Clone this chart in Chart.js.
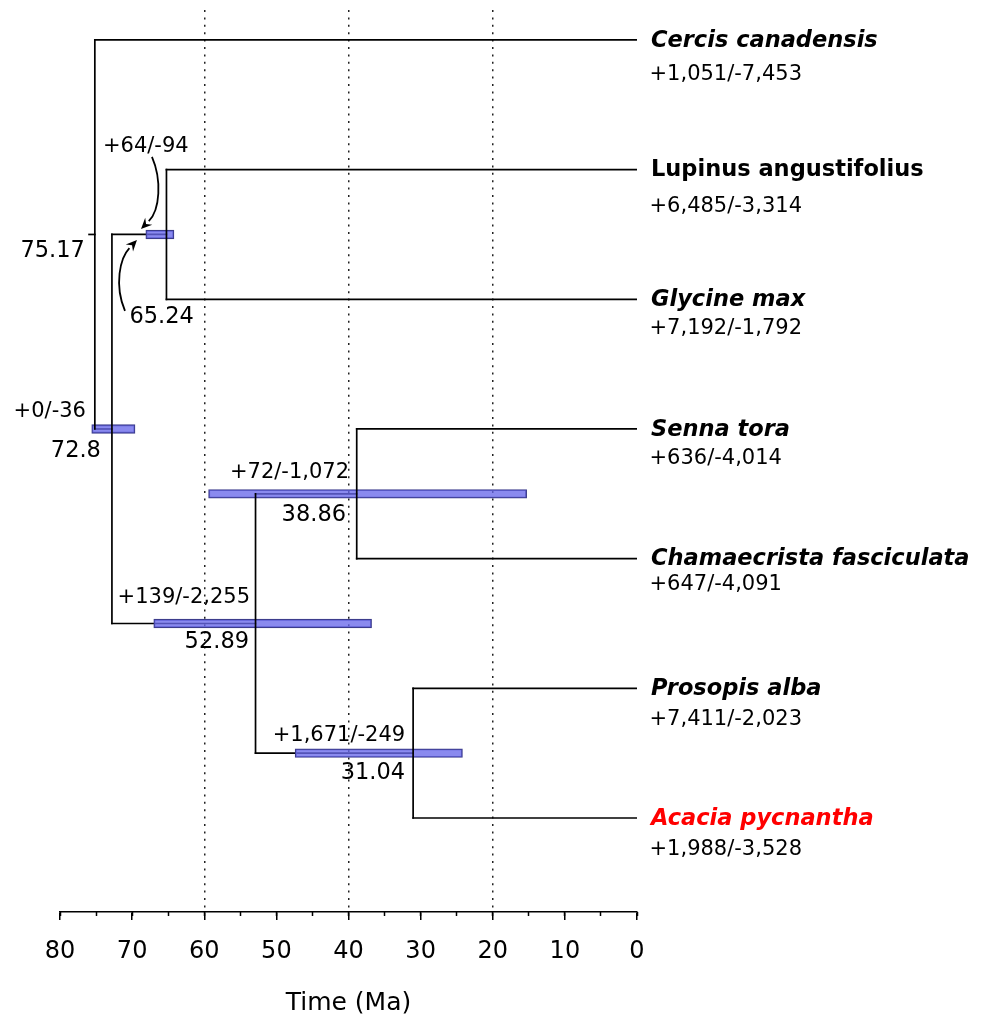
<!DOCTYPE html>
<html><head><meta charset="utf-8">
<script src="https://cdn.jsdelivr.net/npm/chart.js@4.4.1/dist/chart.umd.min.js"></script>
<style>html,body{margin:0;padding:0;background:#fff;}canvas{display:block;}</style>
</head><body>
<canvas id="c" width="984" height="1018"></canvas>
<script>
// ---------- DATA ----------
const leafNames = ['Cercis canadensis','Lupinus angustifolius','Glycine max','Senna tora','Chamaecrista fasciculata','Prosopis alba','Acacia pycnantha'];
const leafGainLoss = ['+1,051/-7,453','+6,485/-3,314','+7,192/-1,792','+636/-4,014','+647/-4,091','+7,411/-2,023','+1,988/-3,528'];
const leafRows = [0, 1, 2, 3, 4, 5, 6];
const leafAge = 0;

const nodeNames = ['root', 'n72', 'n65', 'n52', 'n38', 'n31'];
const nodeAges = [75.17, 72.8, 65.24, 52.89, 38.86, 31.04];
const nodeGainLoss = [null, '+0/-36', '+64/-94', '+139/-2,255', '+72/-1,072', '+1,671/-249'];
const nodeChildren = [['L0','n72'], ['n65','n52'], ['L1','L2'], ['n38','n31'], ['L3','L4'], ['L5','L6']];
const ciOlder = [null, 75.6, 68.1, 67.0, 59.4, 47.4];
const ciYounger = [null, 69.6, 64.2, 36.8, 15.3, 24.2];
const rootStem = 0.8;

const timeMin = 0, timeMax = 80, timeStep = 10, minorStep = 5;
const refLines = [60, 40, 20];
const axisTitle = 'Time (Ma)';

// ---------- STYLE / LAYOUT (pixels) ----------
const FONT = '"DejaVu Sans", Verdana, sans-serif';
const rowMin = -0.231, rowMax = 6.725;
const nodeLabelStyle = {
  root: {age: [-10, 16.5, 'right']},
  n72: {count: [-26, -17, 'right'], age: [-11, 22, 'right']},
  n65: {count: [-63.5, -87.5, 'left'], age: [-37, 82.5, 'left']},
  n52: {count: [-5.5, -25.5, 'right'], age: [-6.5, 18.5, 'right']},
  n38: {count: [-7.7, -21, 'right'], age: [-10.7, 21, 'right']},
  n31: {count: [-8, -18, 'right'], age: [-8, 20, 'right']}
};
const leafNameDx = 14, leafNameDy = 1, leafCountDx = 12.5;
const leafCountDy = [35, 37, 29, 30, 26, 31, 32];
const leafColors = ['#000','#000','#000','#000','#000','#000','#ff0000'];
const leafItalic = [true, false, true, true, true, true, true];
const arrowPaths = [
  [[67.25,0.902],[65.86,1.080],[66.14,1.311],[68.77,1.458]],
  [[70.99,2.090],[72.51,1.890],[71.68,1.681],[69.33,1.543]]
];

// ---------- TREE HELPERS ----------
function ageOf(id){ return id[0]==='L' ? leafAge : nodeAges[nodeNames.indexOf(id)]; }
function rowOf(id){
  if (id[0]==='L') return leafRows[+id.slice(1)];
  const [a,b] = nodeChildren[nodeNames.indexOf(id)];
  return (rowOf(a)+rowOf(b))/2;
}
const lineBase = {type:'line', borderColor:'#000', borderWidth:1.7, pointRadius:0, fill:false, tension:0,
  borderCapStyle:'square', xAxisID:'x', yAxisID:'y', showLine:true};
const datasets = [];
nodeNames.forEach((id,i)=>{
  nodeChildren[i].forEach(c=>{
    datasets.push(Object.assign({}, lineBase, {order:3,
      data:[{x:ageOf(c), y:rowOf(c)}, {x:nodeAges[i], y:rowOf(c)}]}));
  });
  const [a,b] = nodeChildren[i];
  datasets.push(Object.assign({}, lineBase, {order:1,
    data:[{x:nodeAges[i], y:rowOf(a)}, {x:nodeAges[i], y:rowOf(b)}]}));
});
datasets.push(Object.assign({}, lineBase, {order:3,
  data:[{x:nodeAges[0]+rootStem, y:rowOf('root')}, {x:nodeAges[0], y:rowOf('root')}]}));
const ciData = [];
nodeNames.forEach((id,i)=>{ if (ciOlder[i]!=null) ciData.push({y: rowOf(id), x:[ciOlder[i], ciYounger[i]]}); });
datasets.push({type:'bar', indexAxis:'y', order:2, data:ciData, xAxisID:'x', yAxisID:'y',
  backgroundColor:'rgba(105,105,235,0.78)', borderColor:'#3c3c8c', borderWidth:1.2,
  borderSkipped:false, barThickness:8.7});

// ---------- TEXT + ARROWS PLUGIN ----------
const labelPlugin = {
  id:'treeLabels',
  afterDraw(chart){
    const {ctx, scales:{x, y}} = chart;
    ctx.save();
    ctx.textBaseline = 'middle';
    leafNames.forEach((n,i)=>{
      const px = x.getPixelForValue(leafAge), py = y.getPixelForValue(leafRows[i]);
      ctx.fillStyle = leafColors[i];
      ctx.textAlign = 'left';
      ctx.font = (leafItalic[i] ? 'italic ' : '') + 'bold 22.5px ' + FONT;
      ctx.fillText(n, px + leafNameDx, py + leafNameDy);
      ctx.fillStyle = '#000';
      ctx.font = '21px ' + FONT;
      ctx.fillText(leafGainLoss[i], px + leafCountDx, py + leafCountDy[i]);
    });
    nodeNames.forEach((id,i)=>{
      const st = nodeLabelStyle[id];
      const px = x.getPixelForValue(nodeAges[i]), py = y.getPixelForValue(rowOf(id));
      ctx.fillStyle = '#000';
      if (st.age){
        ctx.font = '22.5px ' + FONT; ctx.textAlign = st.age[2];
        ctx.fillText(String(nodeAges[i]), px + st.age[0], py + st.age[1]);
      }
      if (st.count && nodeGainLoss[i]){
        ctx.font = '21px ' + FONT; ctx.textAlign = st.count[2];
        ctx.fillText(nodeGainLoss[i], px + st.count[0], py + st.count[1]);
      }
    });
    ctx.strokeStyle = '#000'; ctx.fillStyle = '#000'; ctx.lineWidth = 1.8;
    arrowPaths.forEach(p=>{
      const P = p.map(([a,r])=>[x.getPixelForValue(a), y.getPixelForValue(r)]);
      const [p0,p1,p2,p3] = P;
      const ang = Math.atan2(p3[1]-p2[1], p3[0]-p2[0]);
      const L = 11, W = 5;
      const bx = p3[0] - L*Math.cos(ang), by = p3[1] - L*Math.sin(ang);
      ctx.beginPath(); ctx.moveTo(p0[0],p0[1]);
      ctx.bezierCurveTo(p1[0],p1[1],p2[0],p2[1],bx,by); ctx.stroke();
      ctx.beginPath(); ctx.moveTo(p3[0],p3[1]);
      ctx.lineTo(bx + W*Math.sin(ang), by - W*Math.cos(ang));
      ctx.lineTo(bx + 0.35*L*Math.cos(ang), by + 0.35*L*Math.sin(ang));
      ctx.lineTo(bx - W*Math.sin(ang), by + W*Math.cos(ang));
      ctx.closePath(); ctx.fill();
    });
    ctx.restore();
  }
};

Chart.defaults.font.family = FONT;
new Chart(document.getElementById('c'), {
  type:'scatter',
  data:{datasets},
  options:{
    responsive:false, devicePixelRatio:1, animation:false, events:[],
    layout:{padding:{left:60, right:347, top:10, bottom:0}},
    plugins:{legend:{display:false}, tooltip:{enabled:false}},
    scales:{
      x:{type:'linear', position:'bottom', min:timeMin, max:timeMax, reverse:true, offset:false,
        afterFit(s){ s.height = 106; },
        ticks:{stepSize:timeStep, color:'#000', font:{size:24}, padding:17, maxRotation:0, autoSkip:false},
        grid:{offset:false, color:c=>refLines.includes(c.tick && c.tick.value) ? '#222' : 'rgba(0,0,0,0)',
          lineWidth:1.5, tickLength:8, tickWidth:1.5, tickColor:'#000'},
        border:{display:true, color:'#000', width:1.5, dash:[2,5.4]},
        title:{display:true, text:axisTitle, color:'#000', font:{size:25}, padding:{top:0, bottom:0}}
      },
      xm:{type:'linear', axis:'x', position:{y:rowMax}, min:timeMin, max:timeMax, reverse:true, offset:false,
        ticks:{stepSize:minorStep, display:false},
        grid:{offset:false, drawOnChartArea:false, tickLength:4, tickWidth:1.5, tickColor:'#000'},
        border:{display:false}
      },
      y:{type:'linear', min:rowMin, max:rowMax, reverse:true, display:false, offset:false, grid:{offset:false}}
    }
  },
  plugins:[labelPlugin]
});
</script>
</body></html>
